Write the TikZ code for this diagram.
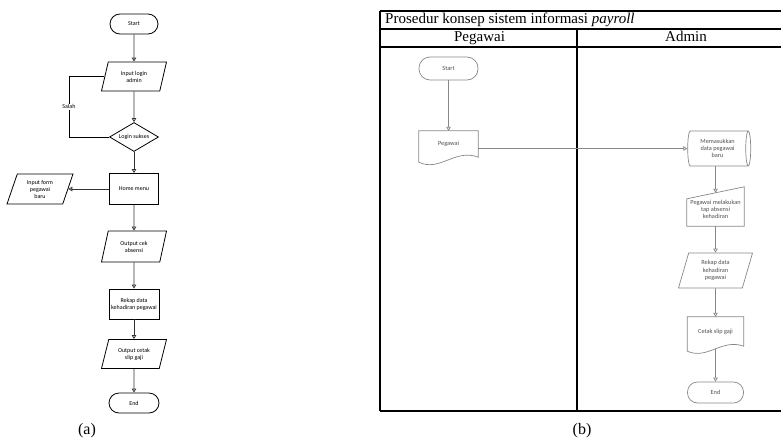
\documentclass[tikz,border=0pt]{standalone}
\usepackage{fontspec}
\setmainfont{Liberation Serif}
\newfontfamily\flowfont{Carlito}
\usetikzlibrary{shapes.geometric,arrows.meta,calc}
\definecolor{lgrey}{RGB}{135,135,135}
\definecolor{tgrey}{RGB}{80,80,80}
\begin{document}
\begin{tikzpicture}[x=1pt,y=-1pt,
  lineA/.style={draw=black, line width=0.8pt},
  arrA/.style={draw=black!80, line width=0.8pt, -{Triangle[open,width=4.5pt,length=4pt]}},
  txtA/.style={font=\flowfont\fontsize{6}{7}\selectfont, align=center, inner sep=1pt},
  termA/.style={txtA, lineA, rectangle, rounded corners=10pt, minimum width=48pt, minimum height=20pt},
  boxA/.style={txtA, lineA, rectangle, minimum width=49pt, minimum height=31pt},
  ioA/.style={txtA, lineA, trapezium, trapezium left angle=63, trapezium right angle=117, trapezium stretches body, minimum width=65pt, minimum height=29pt},
  decA/.style={txtA, lineA, diamond, aspect=1.7, minimum width=49pt, minimum height=29pt, inner sep=0pt},
  lineB/.style={draw=lgrey, line width=0.7pt},
  arrB/.style={lineB, -{Triangle[open,width=4.5pt,length=4pt]}},
  txtB/.style={font=\flowfont\fontsize{6.3}{7.2}\selectfont, text=tgrey, align=center, inner sep=0.5pt},
  termB/.style={txtB, lineB, rectangle, rounded corners=11pt, minimum width=59pt, minimum height=23pt},
  hollowB/.style={txtB, rectangle, draw=none},
  frame/.style={draw=black, line width=1.1pt},
  head/.style={font=\fontsize{15}{17}\selectfont, inner sep=0pt, anchor=base}
]
\useasboundingbox (0,0) rectangle (781,442);

% ---------------- (a) ----------------
\node[termA] (aS) at (134,24) {Start};
\node[ioA] (aLogin) at (134,76.5) {Input login\\admin};
\node[decA] (aDec) at (134,137) {Login sukses};
\node[boxA] (aHome) at (134,189) {Home menu};
\node[ioA, minimum width=66pt, minimum height=30pt] (aForm) at (40,189) {Input form\\pegawai\\baru};
\node[ioA, minimum height=31pt] (aCek) at (134,246.5) {Output cek\\absensi};
\node[boxA, minimum width=50pt, minimum height=30pt] (aRekap) at (134,304) {Rekap data\\kehadiran pegawai};
\node[ioA] (aSlip) at (134,354) {Output cetak\\slip gaji};
\node[termA, minimum width=50pt] (aEnd) at (134,403) {End};
\coordinate (aLoop) at (69,107);

\draw[arrA] (aS) -- (aLogin);
\draw[arrA] (aLogin) -- (aDec);
\draw[arrA] (aDec) -- (aHome);
\draw[arrA] (aHome) -- (aCek);
\draw[arrA] (aCek) -- (aRekap);
\draw[arrA] (aRekap) -- (aSlip);
\draw[arrA] (aSlip) -- (aEnd);
\draw[arrA] (aHome.west) -- (aForm.right side);
\draw[lineA] (aDec.west) -- (aDec.west -| aLoop) -- node[midway, txtA, fill=white] (aSalah) {Salah} (aLoop |- aLogin.left side) -- (aLogin.left side);

\node[font=\fontsize{16}{18}\selectfont] (la) at (87,431) {(a)};

% ---------------- (b) ----------------
\draw[frame] (380,11) -- (781,11);
\draw[frame] (380,29) -- (781,29);
\draw[frame] (380,47) -- (781,47);
\draw[frame] (380,411) -- (781,411);
\draw[frame] (380,11) -- (380,411);
\draw[frame] (577,29) -- (577,411);

\node[anchor=base west, font=\fontsize{15}{17}\selectfont, inner sep=0pt] (title) at (385,23) {Prosedur konsep sistem informasi \textit{payroll}};
\node[head] (hPeg) at (479.5,41) {Pegawai};
\node[head] (hAdm) at (686,41) {Admin};

\node[termB] (bS) at (448.5,68.5) {Start};

\node[hollowB, minimum width=59pt, minimum height=26pt] (bPeg) at (448.5,144) {Pegawai};
\draw[lineB] (bPeg.north west) -- (bPeg.north east) -- (bPeg.south east)
  .. controls +(-23,-9) and +(21,10) .. ($(bPeg.south west)+(0,5)$) -- cycle;

\node[txtB, lineB, cylinder, aspect=0.25, minimum height=63pt, minimum width=35pt] (bDb) at (717.5,148.5) {Memasukkan\\data pegawai\\baru};

\node[hollowB, minimum width=57pt, minimum height=33pt] (bManual) at (715.5,209.5) {Pegawai melakukan\\tap absensi\\kehadiran};
\draw[lineB] (bManual.south west) -- ($(bManual.north west)+(0,6)$) -- ($(bManual.north east)+(0,-6)$) -- (bManual.south east) -- cycle;

\node[txtB, lineB, trapezium, trapezium left angle=64, trapezium right angle=116, trapezium stretches body, minimum width=74pt, minimum height=35pt] (bRekap) at (715.5,270.5) {Rekap data\\kehadiran\\pegawai};

\node[hollowB, minimum width=56pt, minimum height=29pt] (bSlip) at (715.5,331.5) {Cetak slip gaji};
\draw[lineB] (bSlip.north west) -- (bSlip.north east) -- (bSlip.south east)
  .. controls +(-22,-8) and +(20,9) .. ($(bSlip.south west)+(0,5)$) -- cycle;
\coordinate (bSlipBot) at ($(bSlip.south)+(0,3)$);

\node[termB, minimum width=56pt, minimum height=21pt, rounded corners=10pt] (bEnd) at (715.5,392.5) {End};

\draw[arrB] (bS) -- (bPeg.north);
\draw[arrB] (bPeg.east |- bDb.west) -- (bDb.west);
\draw[arrB] (bDb.south -| bManual) -- (bManual.north);
\draw[arrB] (bManual.south) -- (bRekap.north);
\draw[arrB] (bRekap.south) -- (bSlip.north);
\draw[arrB] (bSlipBot) -- (bEnd.north);

\node[font=\fontsize{16}{18}\selectfont] (lb) at (582,431) {(b)};
\end{tikzpicture}
\end{document}
